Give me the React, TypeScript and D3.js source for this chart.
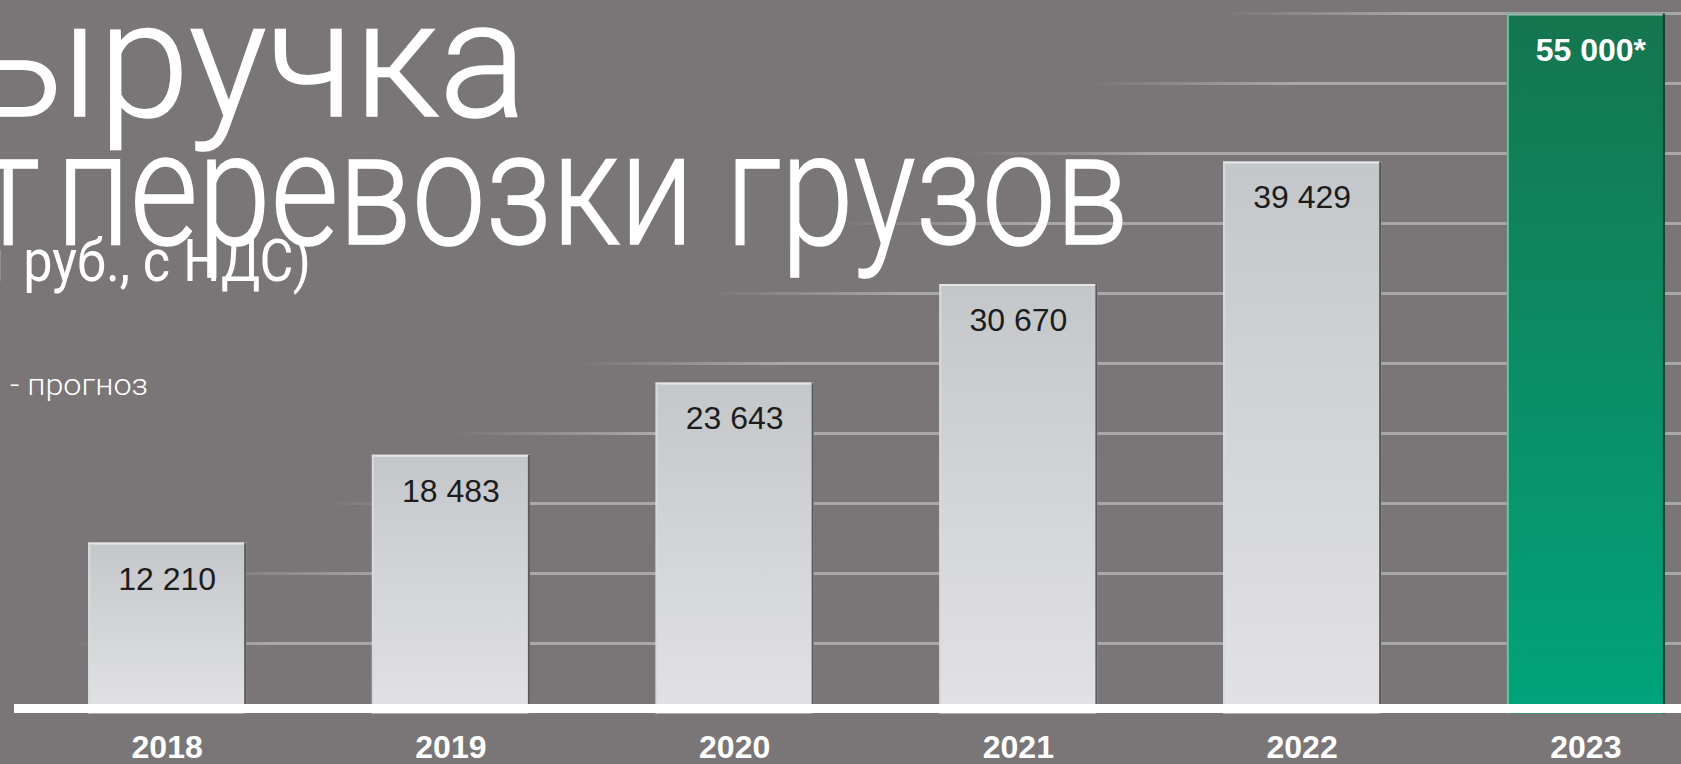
import { useEffect, useRef } from 'react';
import * as d3 from 'd3';

const years = ['2018', '2019', '2020', '2021', '2022', '2023'];
const revenue = [12210, 18483, 23643, 30670, 39429, 55000];
const valueLabels = ['12 210', '18 483', '23 643', '30 670', '39 429', '55 000*'];
const forecast = [false, false, false, false, false, true];

const titleLines = ['Выручка', 'от перевозки грузов', '(млн руб., с НДС)'];
const note = '* - прогноз';

const W = 1681;
const H = 764;

// split "first rest" so the cropped first word can sit on its own
const splitFirst = (s: string): [string, string] => {
  const i = s.indexOf(' ');
  return [s.slice(0, i), s.slice(i + 1)];
};

const App = (): JSX.Element => {
  const svgRef = useRef<SVGSVGElement>(null);

  useEffect(() => {
    document.body.style.margin = '0';
    const svg = d3.select(svgRef.current);
    svg.selectAll('*').remove();

    const x = d3.scaleBand<string>()
      .domain(years)
      .range([3, 1750])
      .paddingInner(0.443)
      .paddingOuter(0.3);

    // axis is cut at 50 000, the forecast bar runs off the top
    const y = d3.scaleLinear().domain([0, 50000]).range([713.5, 13.5]).clamp(true);

    svg.append('rect').attr('width', W).attr('height', H).attr('fill', '#7a7677');

    const defs = svg.append('defs');
    const grey = defs.append('linearGradient').attr('id', 'barGrey')
      .attr('x1', 0).attr('y1', 0).attr('x2', 0).attr('y2', 1);
    grey.append('stop').attr('offset', '0%').attr('stop-color', '#c4c7ca');
    grey.append('stop').attr('offset', '100%').attr('stop-color', '#e2e2e6');

    const green = defs.append('linearGradient').attr('id', 'barGreen')
      .attr('x1', 0).attr('y1', 0).attr('x2', 0).attr('y2', 1);
    green.append('stop').attr('offset', '0%').attr('stop-color', '#15754f');
    green.append('stop').attr('offset', '100%').attr('stop-color', '#01a47b');

    // grid fades out towards the title (top-left)
    const gridFade = defs.append('linearGradient').attr('id', 'gridFade')
      .attr('gradientUnits', 'userSpaceOnUse')
      .attr('x1', 660).attr('y1', 320).attr('x2', 706).attr('y2', 404);
    gridFade.append('stop').attr('offset', '0%').attr('stop-color', '#aaa7a8').attr('stop-opacity', 0);
    gridFade.append('stop').attr('offset', '100%').attr('stop-color', '#aaa7a8').attr('stop-opacity', 1);

    svg.append('g')
      .selectAll('line')
      .data(y.ticks(10).filter(t => t > 0))
      .enter()
      .append('line')
      .attr('x1', 14)
      .attr('x2', W)
      .attr('y1', d => y(d))
      .attr('y2', d => y(d))
      .attr('stroke', 'url(#gridFade)')
      .attr('stroke-width', 3);

    const rows = years.map((yr, i) => ({ yr, v: revenue[i], label: valueLabels[i], fc: forecast[i] }));

    const bars = svg.append('g').selectAll('g').data(rows).enter().append('g');

    bars.append('rect')
      .attr('x', d => x(d.yr)!)
      .attr('y', d => y(d.v))
      .attr('width', x.bandwidth())
      .attr('height', d => y(0) - y(d.v))
      .attr('fill', d => (d.fc ? 'url(#barGreen)' : 'url(#barGrey)'));

    // edges: light top / left, dark right
    bars.append('line')
      .attr('x1', d => x(d.yr)!)
      .attr('x2', d => x(d.yr)! + x.bandwidth())
      .attr('y1', d => y(d.v) + 1)
      .attr('y2', d => y(d.v) + 1)
      .attr('stroke', d => (d.fc ? '#a9bdb2' : '#e6e7e9'))
      .attr('stroke-width', 2);
    bars.append('line')
      .attr('x1', d => x(d.yr)! + 1)
      .attr('x2', d => x(d.yr)! + 1)
      .attr('y1', d => y(d.v))
      .attr('y2', y(0))
      .attr('stroke', d => (d.fc ? '#6cc4a0' : '#d8d9dc'))
      .attr('stroke-width', 2);
    bars.append('line')
      .attr('x1', d => x(d.yr)! + x.bandwidth() - 1)
      .attr('x2', d => x(d.yr)! + x.bandwidth() - 1)
      .attr('y1', d => y(d.v))
      .attr('y2', y(0))
      .attr('stroke', d => (d.fc ? '#1d3b2c' : '#5a5a5c'))
      .attr('stroke-width', 2);

    bars.append('text')
      .attr('x', d => x(d.yr)! + x.bandwidth() / 2 + (d.fc ? 5 : 0))
      .attr('y', d => y(d.v) + 47)
      .attr('text-anchor', 'middle')
      .attr('font-family', 'Liberation Sans, Arial, sans-serif')
      .attr('font-size', 32)
      .attr('font-weight', d => (d.fc ? 'bold' : 'normal'))
      .attr('fill', d => (d.fc ? '#ffffff' : '#1c1c1c'))
      .text(d => d.label);

    // baseline
    svg.append('rect')
      .attr('x', 14).attr('y', 704).attr('width', W - 14).attr('height', 9)
      .attr('fill', '#ffffff');

    svg.append('g')
      .selectAll('text')
      .data(years)
      .enter()
      .append('text')
      .attr('x', d => x(d)! + x.bandwidth() / 2)
      .attr('y', 758)
      .attr('text-anchor', 'middle')
      .attr('font-family', 'Liberation Sans, Arial, sans-serif')
      .attr('font-weight', 'bold')
      .attr('font-size', 32)
      .attr('fill', '#ffffff')
      .text(d => d);

    // title block, cropped on the left like the slide
    const [l2a, l2b] = splitFirst(titleLines[1]);
    const [l3a, l3b] = splitFirst(titleLines[2]);
    const [n1, n2] = splitFirst(note);
    const title = [
      { t: titleLines[0], x: 527, y: 116, size: 164, sx: 1.0, w: 300, sw: 1.6 },
      { t: l2a, x: 40, y: 244, size: 160, sx: 0.82, w: 300, sw: 1.6 },
      { t: l2b, x: 1129, y: 244, size: 160, sx: 0.82, w: 300, sw: 1.6 },
      { t: l3a, x: 4, y: 281, size: 60, sx: 0.87, w: 400, sw: 0 },
      { t: l3b, x: 311, y: 281, size: 60, sx: 0.87, w: 400, sw: 0 },
      { t: n1, x: -1, y: 395, size: 30, sx: 1.08, w: 300, sw: 0 },
      { t: n2, x: 148, y: 395, size: 30, sx: 1.08, w: 300, sw: 0 },
    ];
    svg.append('g')
      .selectAll('text')
      .data(title)
      .enter()
      .append('text')
      .attr('transform', d => `translate(${d.x},${d.y}) scale(${d.sx},1)`)
      .attr('text-anchor', 'end')
      .attr('font-family', 'Roboto, sans-serif')
      .attr('font-weight', d => d.w)
      .attr('font-size', d => d.size)
      .attr('fill', '#ffffff')
      .attr('stroke', d => (d.sw ? '#ffffff' : 'none'))
      .attr('stroke-width', d => d.sw)
      .text(d => d.t);

    return () => {
      svg.selectAll('*').remove();
    };
  }, []);

  return <svg ref={svgRef} width={W} height={H} style={{ display: 'block' }} />;
};

export default App;
